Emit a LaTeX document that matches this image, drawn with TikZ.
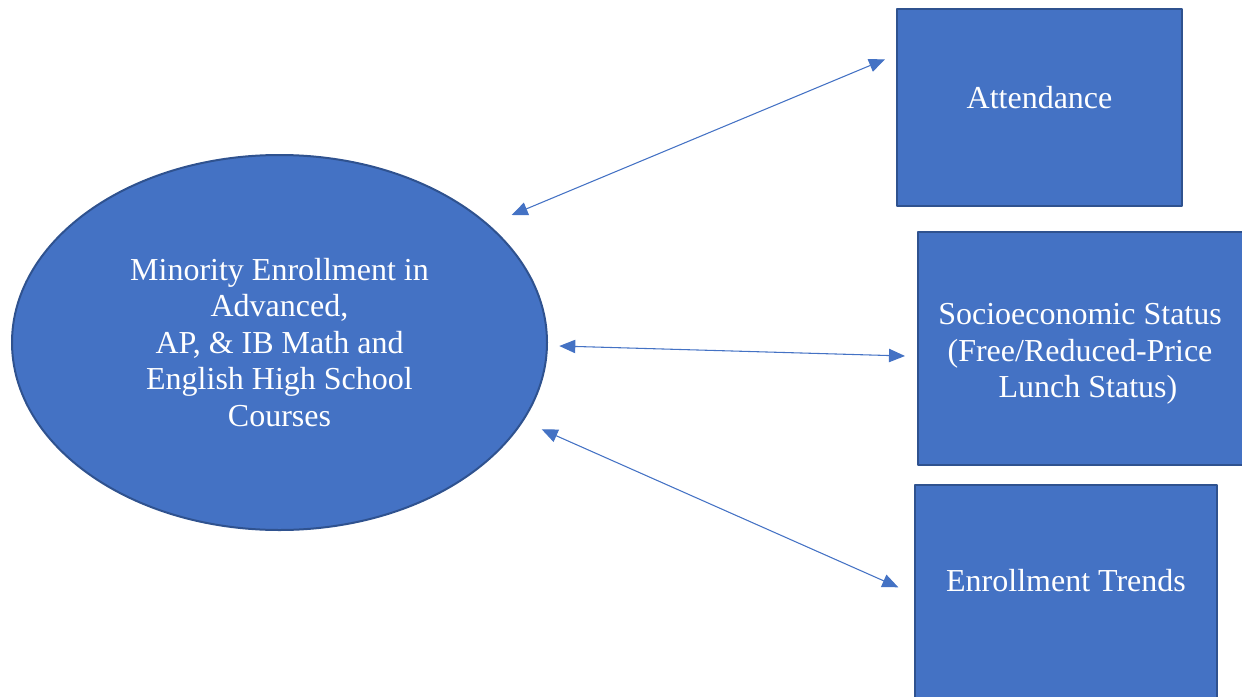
\documentclass[tikz,border=0pt]{standalone}
\usepackage{fontspec}
\setmainfont{Liberation Serif}
\usetikzlibrary{shapes.geometric,arrows.meta,calc}
\definecolor{boxfill}{HTML}{4472C4}
\definecolor{boxline}{HTML}{2F528F}
\begin{document}
\begin{tikzpicture}[x=0.75pt,y=-0.75pt,line join=round,
  shapebox/.style={draw=boxline,fill=boxfill,line width=1.5pt,inner sep=0pt,outer sep=0pt},
  oval/.style={shapebox,ellipse,minimum width=535*0.75pt,minimum height=375*0.75pt},
  rectbox/.style={shapebox,rectangle},
  boxtext/.style={text=white,align=center,inner sep=0pt,font=\fontsize{24}{27.4}\selectfont},
  link/.style={draw=boxfill,line width=0.8pt,{Triangle[length=12pt,width=10pt]}-{Triangle[length=12pt,width=10pt]}}]
\useasboundingbox (0,0) rectangle (1242,696);
\clip (0,0) rectangle (1242,696);
% central variable
\node[oval] (minority) at (279.5,342.5) {};
\node[boxtext] (minoritytext) at (minority.center) {Minority Enrollment in\\Advanced,\\AP, \& IB Math and\\English High School\\Courses};
% factors
\node[rectbox,minimum width=285*0.75pt,minimum height=197*0.75pt] (att) at (1039.5,107.5) {};
\node[boxtext] (atttext) at ($(att.center)+(0,-10)$) {Attendance};
\node[rectbox,minimum width=330*0.75pt,minimum height=233*0.75pt] (ses) at (1083,348.5) {};
\node[boxtext] (sestext) at (1080,354) {Socioeconomic Status\\(Free/Reduced-Price\\\hspace{0.5em}Lunch Status)};
\node[rectbox,minimum width=302*0.75pt,minimum height=235*0.75pt] (trends) at (1066,602.5) {};
\node[boxtext] (trendstext) at ($(trends.center)+(0,-21.5)$) {Enrollment Trends};
% connectors
\draw[link] ($(minority.center)+(232.2,-127.5)$) -- ($(att.west)+(-12,-48.2)$);
\draw[link] ($(minority.center)+(279.8,3.5)$) -- ($(ses.west)+(-13,7.5)$);
\draw[link] ($(minority.center)+(262.2,86.8)$) -- ($(trends.west)+(-16.7,-15.2)$);
\end{tikzpicture}
\end{document}
